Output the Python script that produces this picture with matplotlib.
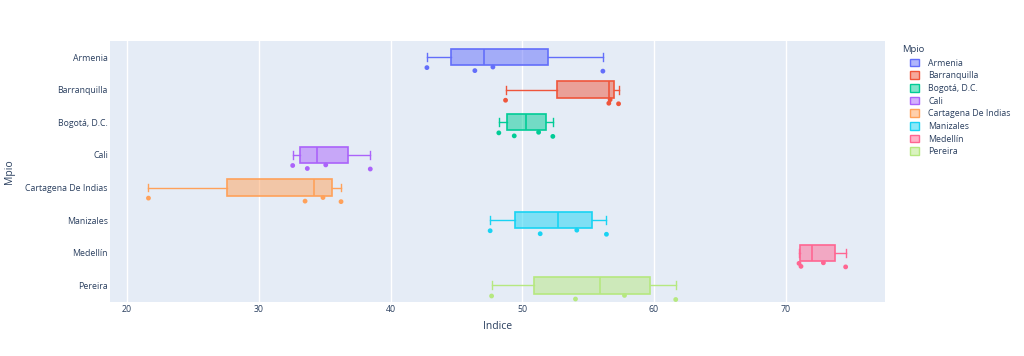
import matplotlib
matplotlib.use("Agg")
import matplotlib.pyplot as plt
from matplotlib.patches import Patch
import numpy as np

# ---- data ----
categories = ["Armenia", "Barranquilla", "Bogotá, D.C.", "Cali",
              "Cartagena De Indias", "Manizales", "Medellín", "Pereira"]
armenia = [42.76, 46.40, 47.77, 56.12]
barranquilla = [48.73, 56.57, 56.67, 57.31]
bogota = [48.22, 49.39, 51.24, 52.32]
cali = [32.57, 33.68, 35.08, 38.46]
cartagena = [21.62, 33.51, 34.87, 36.24]
manizales = [47.56, 51.36, 54.14, 56.39]
medellin = [71.01, 71.16, 72.86, 74.55]
pereira = [47.67, 54.04, 57.76, 61.65]
series = [armenia, barranquilla, bogota, cali, cartagena, manizales, medellin, pereira]
x_ticks = [20, 30, 40, 50, 60, 70]

# ---- style ----
colors = ["#636efa", "#EF553B", "#00cc96", "#ab63fa",
          "#FFA15A", "#19d3f3", "#FF6692", "#B6E880"]
point_offsets = [0.325, 0.417, 0.307, 0.433]  # jitter below box (category units)
TXT = "#2a3f5f"
FONT = "Open Sans"
plt.rcParams["font.family"] = [FONT, "DejaVu Sans"]


def halves_stats(vals):
    v = np.sort(np.asarray(vals, float))
    n = len(v)
    med = np.median(v)
    half = n // 2
    lower = v[:half]
    upper = v[n - half:]
    return dict(med=med, q1=np.median(lower), q3=np.median(upper),
                whislo=v.min(), whishi=v.max(), fliers=[])


fig = plt.figure(figsize=(10.24, 3.56), dpi=100)
ax = fig.add_axes([110 / 1024, (356 - 301.7) / 356, 774.5 / 1024, 261 / 356])
ax.set_facecolor("#E5ECF6")

for i, (vals, c) in enumerate(zip(series, colors)):
    st = halves_stats(vals)
    ax.bxp([st], positions=[i], vert=False, widths=0.5, capwidths=0.24,
           patch_artist=True, showfliers=False,
           boxprops=dict(facecolor=matplotlib.colors.to_rgba(c, 0.5), edgecolor=c, linewidth=1.2),
           medianprops=dict(color=c, linewidth=1.2),
           whiskerprops=dict(color=c, linewidth=1.0),
           capprops=dict(color=c, linewidth=1.0), zorder=3)
    sv = np.sort(vals)
    ax.scatter(sv, [i + point_offsets[k % 4] for k in range(len(sv))],
               s=12, color=c, edgecolors="none", zorder=4)

ax.set_ylim(7.5, -0.5)
ax.set_xlim(18.7, 77.5)
ax.set_xticks(x_ticks)
ax.set_xticklabels([str(t) for t in x_ticks])
ax.set_yticks(range(len(categories)))
ax.set_yticklabels(categories)
ax.grid(axis="x", color="white", linewidth=1.0, zorder=0)
ax.set_axisbelow(True)
for s in ax.spines.values():
    s.set_visible(False)
ax.tick_params(axis="both", length=0, labelsize=6.3, labelcolor=TXT)
ax.tick_params(axis="x", pad=2.5)
ax.tick_params(axis="y", pad=1.5)
ax.set_xlabel("Indice", fontsize=7.5, color=TXT, labelpad=5)
ax.set_ylabel("Mpio", fontsize=7.5, color=TXT)
ax.yaxis.set_label_coords(-0.130 + 6 / 774.5, 0.5)

fig.text(902 / 1024, 1 - 49 / 356, "Mpio", fontsize=6.8, color=TXT, ha="left", va="center")
handles = [Patch(facecolor=matplotlib.colors.to_rgba(c, 0.5), edgecolor=c, linewidth=1.0, label=l)
           for c, l in zip(colors, categories)]
leg = fig.legend(handles=handles, loc="upper left",
                 bbox_to_anchor=(910 / 1024, 1 - 58.5 / 356), frameon=False,
                 fontsize=6.3, handlelength=1.05, handleheight=1.0,
                 handletextpad=1.05, labelspacing=0.42, borderaxespad=0, borderpad=0)
for t in leg.get_texts():
    t.set_color(TXT)

fig.savefig("out.png", dpi=100)
